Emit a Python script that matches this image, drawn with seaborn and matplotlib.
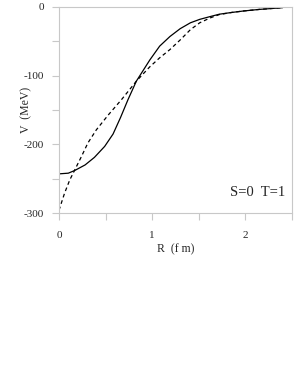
import matplotlib
matplotlib.use("Agg")
import matplotlib.pyplot as plt
import seaborn as sns
import pandas as pd
from matplotlib.ticker import MultipleLocator

sns.set_style("white")
plt.rcParams['font.family'] = ['Liberation Serif', 'DejaVu Serif']
plt.rcParams['axes.unicode_minus'] = False

# Solid curve
r_solid = [0, 0.1, 0.17, 0.28, 0.38, 0.49, 0.58, 0.66, 0.74, 0.83, 0.975, 1.08, 1.19, 1.30, 1.41, 1.51, 1.62, 1.72, 1.85, 1.98, 2.15, 2.4]
v_solid = [-243, -242, -238, -230, -219, -203, -185, -161, -135, -108, -77, -57, -43, -31.6, -23, -18, -14, -10.5, -8, -5.8, -3.5, -1]

# Dashed curve
r_dash = [0, 0.06, 0.115, 0.17, 0.24, 0.31, 0.40, 0.53, 0.67, 0.83, 0.975, 1.08, 1.19, 1.30, 1.41, 1.51, 1.62, 1.72, 1.85, 1.98, 2.15, 2.4]
v_dash = [-296, -271, -252, -237, -218, -198, -179, -157, -135, -108, -87, -74, -62, -48, -33, -23, -16, -11, -8, -5.8, -3.5, -1]

x_ticks = [0, 1, 2]
y_ticks = [0, -100, -200, -300]
annotation = "S=0  T=1"

fig = plt.figure(figsize=(3.05, 3.88), dpi=100)
ax = fig.add_axes([59/305, 1-213/388, (292-59)/305, (213-7)/388])

df_s = pd.DataFrame({"R": r_solid, "V": v_solid})
df_d = pd.DataFrame({"R": r_dash, "V": v_dash})
sns.lineplot(data=df_s, x="R", y="V", ax=ax, color="black", linewidth=0.9, estimator=None, sort=False)
sns.lineplot(data=df_d, x="R", y="V", ax=ax, color="black", linewidth=0.9, linestyle=(0, (3.0, 2.4)), estimator=None, sort=False)

ax.set_xlim(0, 2.5)
ax.set_ylim(-300, 0)
ax.set_xticks(x_ticks)
ax.set_yticks(y_ticks)
ax.xaxis.set_minor_locator(MultipleLocator(0.5))
ax.yaxis.set_minor_locator(MultipleLocator(50))
gray = "#c8c8c8"
for s in ax.spines.values():
    s.set_color(gray)
    s.set_linewidth(0.8)
ax.tick_params(axis="both", which="both", direction="out", color=gray, width=0.8)
ax.tick_params(axis="both", which="major", length=5, labelsize=8)
ax.tick_params(axis="both", which="minor", length=5)
ax.tick_params(axis="y", which="both", left=True, pad=6)
ax.tick_params(axis="x", which="both", bottom=True, pad=8)

ax.set_xlabel("R  (f m)", fontsize=8.5, labelpad=2)
ax.set_ylabel("V  (MeV)", fontsize=8.5)
ax.yaxis.set_label_coords(-27/233, 0.5)
ax.text(0.97, 0.1, annotation, transform=ax.transAxes, ha="right", va="center", fontsize=10.5)

fig.savefig("out.png", dpi=100)
